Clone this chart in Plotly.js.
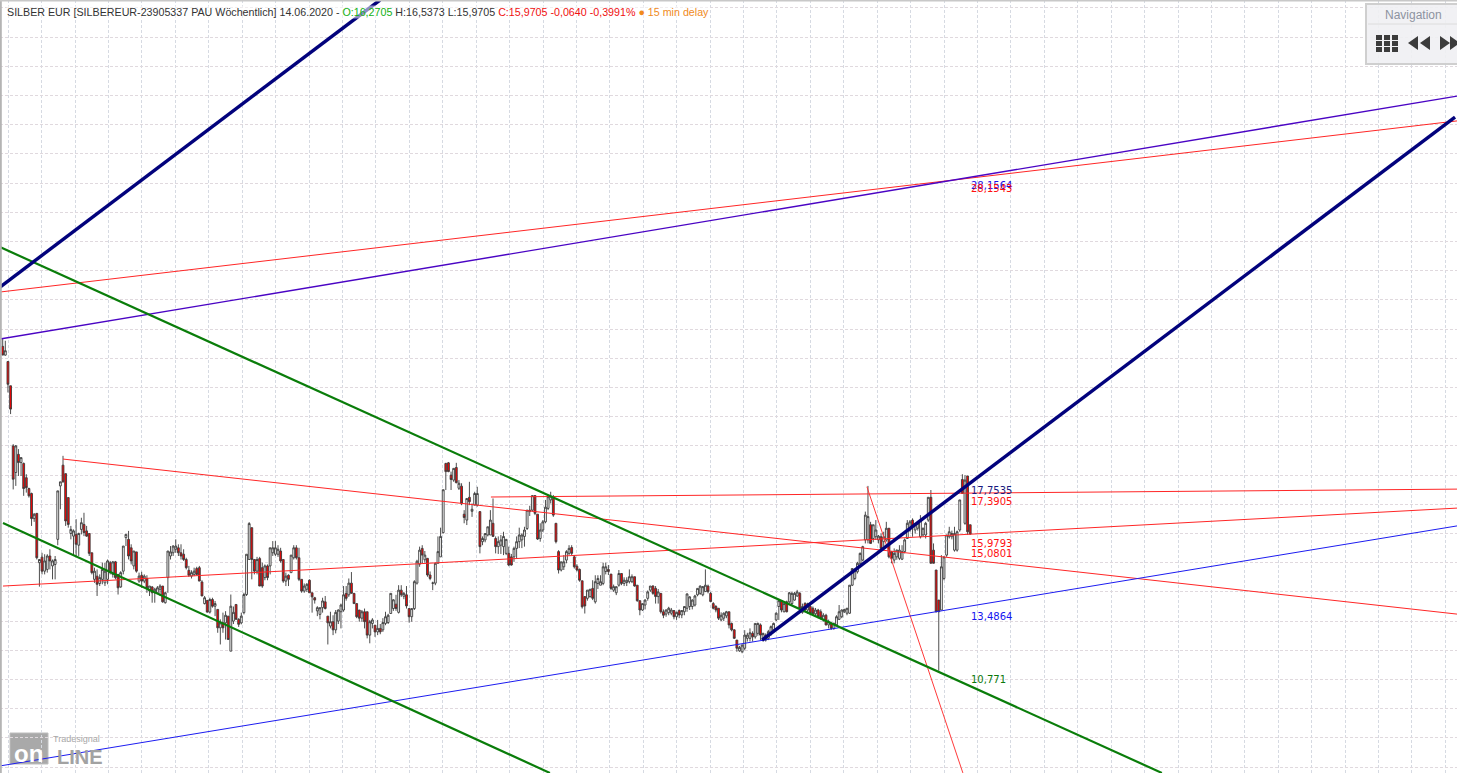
<!DOCTYPE html>
<html>
<head>
<meta charset="utf-8">
<script src="https://cdn.plot.ly/plotly-3.0.1.min.js"></script>
<style>html,body{margin:0;padding:0;background:#fff;overflow:hidden}#chart{width:1457px;height:773px}</style>
</head>
<body>
<div id="chart"></div>
<script>
const opens = [
22.41,22.11,21.89,21.06,19.0,18.09,18.71,18.43,18.4,17.91,
17.54,17.37,16.51,16.69,15.0,15.19,14.71,14.77,15.23,14.89,
14.94,15.8,17.63,18.34,18.05,17.23,16.0,15.91,15.97,15.6,
16.14,16.31,16.09,16.0,15.34,14.43,14.54,14.29,14.43,14.31,
14.43,15.0,14.6,15.03,14.6,14.17,14.71,15.86,15.8,15.51,
14.89,15.37,14.37,14.57,14.37,14.46,14.03,14.17,13.97,13.97,
14.09,14.2,13.63,14.49,15.23,15.34,15.46,15.51,15.34,15.29,
15.11,14.74,14.54,14.6,14.8,14.83,14.34,13.6,13.71,13.31,
13.74,13.51,13.4,12.77,12.94,12.94,13.17,11.97,13.0,13.57,
13.06,12.94,13.29,13.91,15.11,16.2,15.11,14.71,15.14,14.83,
14.49,14.89,14.89,15.34,15.29,15.29,15.4,15.11,14.37,14.57,
14.66,15.17,15.51,15.17,14.43,14.03,14.09,14.4,13.97,13.8,
13.35,13.23,13.46,13.66,13.17,12.83,12.98,12.7,13.0,13.32,
13.38,13.95,13.9,14.3,13.95,13.6,13.38,13.1,13.32,13.32,
12.52,12.92,12.86,12.63,12.75,12.7,12.92,12.95,13.26,13.43,
13.58,13.3,14.06,13.85,13.9,13.43,13.15,13.43,14.3,14.95,
15.49,15.1,15.15,14.58,14.3,14.3,14.98,15.2,16.03,18.4,
18.42,18.0,17.83,18.26,17.55,17.62,16.66,16.46,17.24,16.76,
16.97,16.97,16.75,15.72,15.78,15.95,15.95,16.35,15.83,15.55,
15.6,15.55,15.32,15.32,15.2,15.2,15.49,15.72,15.78,15.9,
16.17,16.75,16.8,17.3,16.66,15.83,16.12,16.4,16.86,17.15,
17.2,16.35,15.38,14.75,14.86,15.09,15.32,15.52,15.2,14.88,
14.77,14.38,13.84,13.78,13.84,14.12,13.66,14.29,14.23,14.29,
14.7,14.77,14.61,14.06,13.97,14.23,14.63,14.29,14.32,14.35,
14.35,14.52,14.23,13.7,13.38,13.55,13.78,14.06,14.2,14.12,
13.84,13.95,13.32,13.24,13.29,13.27,13.36,13.15,13.36,13.21,
13.32,13.44,13.5,13.5,13.55,13.9,13.95,13.9,14.01,14.2,
13.95,13.6,13.5,13.44,13.04,13.1,13.18,13.32,12.92,12.7,
12.35,11.98,11.95,12.07,12.41,12.41,12.58,12.46,12.58,12.87,
12.41,12.52,12.41,12.58,12.7,13.04,13.5,13.7,13.32,13.66,
13.66,13.6,13.72,13.86,13.95,13.3,13.6,13.38,13.5,13.44,
13.25,13.38,13.32,13.04,13.2,12.87,12.92,12.75,12.87,13.06,
13.15,13.32,13.27,13.27,14.23,14.46,14.69,14.98,15.09,15.78,
15.78,16.3,15.83,15.89,15.78,15.89,15.72,15.78,16.18,15.38,
15.09,15.2,15.15,15.12,15.38,15.83,16.12,16.46,16.12,16.18,
15.89,15.95,15.95,16.46,17.24,15.43,14.75,13.72,13.38,14.46,
15.26,15.89,15.89,15.43,15.43,16.12,17.85,16.35,17.97,16.3
];
const highs = [
22.66,22.6,21.89,21.06,19.06,19.03,18.89,18.6,18.43,18.03,
17.57,17.4,16.7,16.69,15.11,15.34,15.29,15.29,15.46,15.11,
15.23,17.46,17.77,18.66,18.05,17.23,16.26,16.14,16.49,16.03,
16.54,16.71,16.26,16.0,15.34,14.83,14.77,14.6,15.0,15.0,
15.11,15.06,15.06,15.06,14.6,14.71,15.57,15.97,16.09,15.63,
15.4,15.37,14.66,14.69,14.6,14.57,14.2,14.2,14.14,14.2,
14.26,14.2,14.0,15.4,15.57,15.6,15.8,15.63,15.63,15.46,
15.17,14.89,14.74,14.83,14.86,14.89,14.4,13.86,13.71,13.8,
13.8,13.69,13.4,13.06,13.29,13.34,13.17,13.91,13.5,13.57,
13.1,13.29,13.97,15.29,16.39,16.2,15.11,15.2,15.2,15.0,
14.94,14.94,15.51,15.74,15.74,15.6,15.51,15.11,14.66,14.6,
15.26,15.6,15.6,15.51,14.43,14.29,14.3,14.43,13.97,13.83,
13.51,13.46,13.8,13.86,13.17,13.32,13.2,13.38,13.4,13.6,
14.2,14.2,14.46,14.68,13.95,13.6,13.38,13.38,13.43,13.32,
13.04,13.1,12.86,13.04,12.9,13.1,13.32,13.25,13.95,13.75,
13.9,14.23,14.23,14.0,14.2,13.43,13.43,14.4,15.1,15.55,
15.6,15.4,15.15,14.7,14.35,15.0,15.9,16.2,17.5,18.42,
18.45,18.12,18.23,18.42,17.83,17.72,16.8,17.2,17.77,17.03,
17.43,17.6,16.75,15.9,16.0,16.23,16.8,17.2,15.9,15.9,
15.95,16.06,15.8,15.55,15.3,15.55,15.9,16.2,16.0,16.23,
16.8,16.95,17.3,17.3,16.66,16.35,16.46,17.15,17.32,17.43,
17.32,16.35,15.43,15.03,15.26,15.43,15.6,15.6,15.26,14.95,
14.8,14.38,13.84,14.06,14.1,14.4,14.57,14.57,14.57,15.0,
15.0,14.92,14.61,14.25,14.18,14.75,14.63,14.5,14.5,14.77,
14.6,14.52,14.23,13.7,13.6,13.75,14.05,14.2,14.23,14.2,
14.1,13.95,13.4,13.4,13.49,13.45,13.38,13.32,13.4,13.38,
13.5,13.95,13.85,13.75,13.9,14.12,14.22,14.2,14.77,14.25,
14.0,13.65,13.55,13.44,13.3,13.3,13.35,13.32,12.95,12.72,
12.35,12.15,12.2,12.69,12.6,12.75,12.65,12.92,12.95,12.92,
12.6,12.58,12.7,12.85,12.95,13.3,13.72,13.72,13.6,13.7,
14.0,14.0,14.0,14.07,14.0,13.6,13.65,13.63,13.55,13.5,
13.45,13.42,13.4,13.27,13.25,13.05,12.95,12.95,13.2,13.55,
13.4,13.42,13.45,14.23,14.8,14.8,15.03,15.35,15.58,16.75,
17.63,16.4,16.3,16.46,15.95,16.0,16.06,16.4,16.18,15.38,
15.49,15.45,15.6,15.6,15.83,16.46,16.46,16.52,16.35,16.4,
16.63,16.2,16.4,17.24,17.49,15.66,14.75,13.72,15.26,15.2,
15.95,16.23,16.1,16.23,16.1,17.15,18.03,18.0,17.97,16.3
];
const lows = [
22.11,22.09,20.83,20.09,17.51,17.63,17.97,17.97,17.29,17.4,
17.23,16.26,16.4,15.11,14.18,14.6,14.6,14.66,14.77,14.43,
14.43,15.6,16.83,17.74,16.26,16.2,15.8,15.23,15.23,15.23,
15.97,15.91,15.89,15.23,14.6,14.31,13.86,14.2,14.26,14.2,
14.26,14.6,14.49,14.43,13.91,14.14,14.6,15.57,15.11,14.94,
14.77,14.66,14.31,14.14,14.3,13.97,13.86,13.63,13.63,13.97,
13.86,13.63,13.6,13.97,15.11,15.23,15.34,15.23,15.11,15.06,
14.77,14.51,14.46,14.54,14.57,14.37,13.86,13.57,13.29,13.26,
13.46,13.17,12.6,12.2,12.6,12.37,12.37,11.97,12.9,13.06,
12.8,12.89,13.23,13.86,15.11,14.43,14.6,14.6,14.2,14.14,
14.4,14.4,14.6,15.23,15.23,15.2,15.0,14.31,14.2,14.2,
14.66,15.11,15.11,14.37,13.97,13.97,14.0,13.97,13.29,13.6,
13.17,13.06,13.29,13.4,12.2,12.75,12.52,12.58,12.9,12.75,
13.32,13.7,13.83,13.95,13.6,13.1,12.98,12.98,12.75,12.41,
12.24,12.75,12.46,12.52,12.55,12.63,12.86,12.9,13.26,13.35,
13.35,13.26,13.83,13.75,13.43,12.95,12.98,13.38,14.25,14.86,
14.98,15.0,14.52,14.4,14.06,14.23,14.98,15.2,16.0,17.49,
18.1,17.49,17.77,17.72,17.49,16.97,16.35,16.29,16.97,16.57,
16.97,16.92,15.32,15.6,15.7,15.9,15.95,15.9,15.32,15.3,
15.3,15.26,15.26,14.88,14.9,15.03,15.15,15.5,15.5,15.55,
16.12,16.6,16.75,16.63,15.78,15.72,16.05,16.35,16.8,17.03,
16.57,15.66,14.63,14.7,14.75,14.98,15.26,15.26,14.8,14.7,
14.35,13.43,13.26,13.7,13.8,13.72,13.6,14.1,14.23,14.23,
14.6,14.58,14.06,14.0,13.89,14.18,14.23,14.2,14.2,14.29,
14.3,14.18,13.66,13.2,13.35,13.4,13.7,14.0,13.9,13.6,
13.6,13.26,13.1,13.15,13.2,13.2,13.06,13.04,13.1,13.1,
13.2,13.32,13.38,13.4,13.5,13.85,13.9,13.85,14.0,13.95,
13.65,13.4,13.3,13.04,13.0,13.0,13.1,12.75,12.65,12.4,
11.95,11.95,11.9,12.0,12.3,12.3,12.3,12.4,12.5,12.35,
12.3,12.3,12.35,12.5,12.6,13.0,13.04,13.3,13.3,13.3,
13.6,13.55,13.7,13.83,13.38,13.25,13.32,13.25,13.2,13.2,
13.2,13.1,13.05,12.98,12.85,12.75,12.7,12.7,12.83,13.04,
13.1,13.28,13.2,13.25,14.2,14.4,14.63,14.9,15.05,15.66,
15.66,15.66,15.7,15.78,15.66,15.43,15.55,15.72,15.15,14.98,
14.98,15.1,15.09,15.09,15.32,15.83,16.06,15.89,16.0,16.1,
15.83,15.9,15.83,16.4,14.98,14.98,13.3,11.3,13.38,14.4,
15.2,15.83,15.8,15.38,15.38,16.06,17.37,16.3,15.95,15.95
];
const closes = [
22.11,22.26,21.11,20.26,17.86,19.0,18.43,18.6,17.54,17.57,
17.29,16.51,16.66,15.17,15.11,14.71,15.06,15.23,15.06,15.06,
15.11,17.46,17.77,17.77,16.43,16.31,16.14,16.09,15.63,16.0,
16.37,16.03,15.91,15.32,14.66,14.71,14.26,14.49,14.77,14.71,
15.06,14.66,15.03,14.49,14.14,14.66,15.57,15.97,15.23,15.06,
15.4,14.71,14.54,14.37,14.54,14.14,14.2,13.97,14.09,14.14,
14.2,13.66,13.97,15.4,15.37,15.57,15.57,15.34,15.23,15.11,
14.83,14.57,14.66,14.71,14.6,14.37,13.86,13.8,13.31,13.74,
13.51,13.6,12.77,12.94,12.77,13.2,12.37,13.51,13.3,13.06,
12.89,13.17,13.91,15.29,16.34,15.11,14.71,15.11,14.2,14.2,
14.89,14.49,15.51,15.51,15.51,15.46,15.06,14.37,14.54,14.43,
15.26,15.51,15.17,14.43,14.03,14.2,14.26,13.97,13.83,13.72,
13.46,13.46,13.69,13.43,12.94,12.98,12.7,13.3,13.38,13.55,
13.9,13.78,14.3,13.95,13.6,13.15,13.1,13.32,12.98,12.52,
12.98,13.04,12.63,12.75,12.63,12.95,13.15,13.2,13.95,13.73,
13.43,14.06,13.9,13.95,13.52,13.15,13.43,14.35,15.05,15.43,
15.26,15.26,14.58,14.46,14.3,14.98,15.38,15.9,17.5,18.12,
18.12,17.85,18.23,17.74,17.72,17.03,16.55,17.2,17.09,16.83,
17.37,17.37,15.55,15.83,16.0,16.23,16.46,15.9,15.55,15.72,
15.78,15.9,15.8,14.92,14.92,15.49,15.72,15.95,15.95,16.12,
16.8,16.8,17.3,16.69,15.81,16.12,16.4,16.9,17.26,17.28,
16.63,15.72,14.75,15.03,15.03,15.38,15.49,15.32,14.86,14.75,
14.4,13.49,13.52,14.06,14.09,13.78,14.35,14.46,14.35,14.86,
14.86,14.7,14.12,14.18,14.18,14.63,14.29,14.4,14.4,14.52,
14.52,14.2,13.7,13.38,13.6,13.72,14.0,14.2,13.95,13.84,
14.0,13.32,13.2,13.38,13.44,13.38,13.15,13.3,13.21,13.36,
13.5,13.93,13.83,13.72,13.86,14.12,14.2,14.18,14.23,14.01,
13.67,13.44,13.38,13.1,13.2,13.27,13.32,12.87,12.7,12.41,
12.07,12.1,12.18,12.52,12.52,12.6,12.46,12.92,12.92,12.52,
12.58,12.35,12.64,12.81,12.92,13.27,13.7,13.38,13.6,13.32,
13.97,13.95,13.95,14.0,13.44,13.5,13.38,13.6,13.27,13.25,
13.38,13.15,13.1,13.2,12.87,12.98,12.75,12.92,13.15,13.32,
13.38,13.4,13.44,14.23,14.8,14.75,14.98,15.32,15.55,16.63,
16.58,15.66,16.3,16.12,15.91,15.49,15.89,16.18,15.2,15.15,
15.32,15.43,15.43,15.38,15.78,16.35,16.4,16.23,16.3,16.35,
16.46,16.18,16.35,17.24,14.98,14.98,13.32,13.32,14.86,15.2,
15.95,16.06,16.0,16.0,16.06,17.15,17.37,17.83,16.06,15.98
];
const barNumbers = opens.map((_, k) => k);

// trend lines: bar positions and price levels at both ends
const lineNavyUpperX = [-1.03, 143.9];
const lineNavyUpperY = [24.44, 34.27];
const lineNavyLowerX = [289.6, 553.9];
const lineNavyLowerY = [12.35, 30.26];
const lineRedTopX = [-1.03, 554.65];
const lineRedTopY = [24.27, 30.13];
const linePurpleX = [-1.03, 554.65];
const linePurpleY = [22.66, 30.98];
const lineGreenUpperX = [-1.03, 442.1];
const lineGreenUpperY = [25.81, 7.80];
const lineGreenLowerX = [0.11, 208.7];
const lineGreenLowerY = [16.36, 7.80];
const lineRedFallX = [23.0, 554.65];
const lineRedFallY = [18.55, 13.24];
const lineRedFlatX = [186.2, 554.65];
const lineRedFlatY = [17.25, 17.52];
const lineRedRiseX = [0.11, 554.65];
const lineRedRiseY = [14.2, 16.87];
const lineBlueX = [-1.03, 554.65];
const lineBlueY = [8.04, 16.26];
const lineRedSteepX = [329.6, 366.2];
const lineRedSteepY = [17.6, 7.80];

// price labels next to the last bar
const labelTexts = ['28,1564','28,1543','17,7535','17,3905','15,9793','15,0801','13,4864','10,771'];
const labelPrices = [27.93,27.83,17.46,17.08,15.67,15.33,13.16,11.0];
const labelColors = ['#1c10e8','#ff1010','#1a1a80','#ff1010','#ff1010','#ff1010','#1414f0','#0a780a'];

const px = v => v / 1457;
const py = v => 1 - v / 773;

const traces = [{
  type: 'candlestick', x: barNumbers, open: opens, high: highs, low: lows, close: closes,
  increasing: {line: {color: '#3a3a3a', width: 0.9}, fillcolor: '#ffffff'},
  decreasing: {line: {color: '#3a3a3a', width: 0.9}, fillcolor: '#ff0000'},
  whiskerwidth: 0, hoverinfo: 'skip', showlegend: false
}];
function addLine(x, y, color, width) {
  traces.push({type: 'scatter', mode: 'lines', x: x, y: y, line: {color: color, width: width}, hoverinfo: 'skip', showlegend: false});
}
addLine(lineRedTopX, lineRedTopY, '#ff2626', 1);
addLine(linePurpleX, linePurpleY, '#4a04c4', 1.4);
addLine(lineRedFallX, lineRedFallY, '#ff2626', 1);
addLine(lineRedFlatX, lineRedFlatY, '#ff2626', 1);
addLine(lineRedRiseX, lineRedRiseY, '#ff2626', 1);
addLine(lineRedSteepX, lineRedSteepY, '#ff3a3a', 1);
addLine(lineBlueX, lineBlueY, '#1c1cf0', 1);
addLine(lineGreenUpperX, lineGreenUpperY, '#0a7d0a', 2.2);
addLine(lineGreenLowerX, lineGreenLowerY, '#0a7d0a', 2.2);
addLine(lineNavyUpperX, lineNavyUpperY, '#02027c', 3.4);
addLine(lineNavyLowerX, lineNavyLowerY, '#02027c', 3.4);

const annotations = labelTexts.map((t, k) => ({
  x: 369.1, y: labelPrices[k], xref: 'x', yref: 'y', text: t, showarrow: false, xanchor: 'left', yanchor: 'middle',
  font: {family: 'DejaVu Sans', size: 10, color: labelColors[k]}, borderpad: 0
}));
function note(x, y, text, size, color, extra) {
  annotations.push(Object.assign({
    x: px(x), y: py(y), xref: 'paper', yref: 'paper', text: text, showarrow: false, xanchor: 'left', yanchor: 'middle', borderpad: 0,
    font: {family: 'Liberation Sans', size: size, color: color}
  }, extra || {}));
}
note(6, 12,
  'SILBER EUR [SILBEREUR-23905337 PAU Wöchentlich] 14.06.2020 - ' +
  '<span style="color:#12b012">O:16,2705</span> H:16,5373 L:15,9705 ' +
  '<span style="color:#f01010">C:15,9705 -0,0640 -0,3991%</span> ' +
  '<span style="color:#f08a1c">● 15 min delay</span>', 10.7, '#333333', {bgcolor: 'rgba(255,255,255,0.55)'});
note(1384, 15, 'Navigation', 12, '#8d93a0');
note(52, 739, 'Tradesignal', 9, '#a8a8a8');
note(13, 753, '<b>on</b>', 24, '#ffffff');
note(56, 757, '<b>LINE</b>', 20, '#a2a2a2');

const shapes = [
  {type: 'rect', xref: 'paper', yref: 'paper', x0: px(0), x1: px(1.8), y0: py(773), y1: py(0), line: {width: 0}, fillcolor: '#b4b4b4'},
  {type: 'rect', xref: 'paper', yref: 'paper', x0: px(0), x1: px(1457), y0: py(1.6), y1: py(0), line: {width: 0}, fillcolor: '#c8c8c8'},
  {type: 'rect', xref: 'paper', yref: 'paper', x0: px(1366), x1: px(1462), y0: py(64), y1: py(4), line: {color: '#cfcfcf', width: 2}, fillcolor: 'rgba(240,240,243,0.9)'},
  {type: 'line', xref: 'paper', yref: 'paper', x0: px(1368), x1: px(1457), y0: py(24), y1: py(24), line: {color: '#dcdcdc', width: 1}},
  {type: 'rect', xref: 'paper', yref: 'paper', x0: px(10), x1: px(48), y0: py(764), y1: py(733), line: {color: '#bdbdbd', width: 1}, fillcolor: '#a9a9a9', layer: 'below'}
];
[0, 1, 2].forEach(r => [0, 1, 2].forEach(c => shapes.push({
  type: 'rect', xref: 'paper', yref: 'paper',
  x0: px(1376 + c * 8), x1: px(1382 + c * 8), y0: py(40 + r * 6), y1: py(35 + r * 6),
  line: {width: 0}, fillcolor: '#3c3c3c'
})));
[[1418, 1408], [1430, 1420]].forEach(a => shapes.push({
  type: 'path', xref: 'paper', yref: 'paper',
  path: `M ${px(a[0])} ${py(36)} L ${px(a[1])} ${py(43)} L ${px(a[0])} ${py(50)} Z`, line: {width: 0}, fillcolor: '#3c3c3c'
}));
[[1440, 1450], [1450, 1460]].forEach(a => shapes.push({
  type: 'path', xref: 'paper', yref: 'paper',
  path: `M ${px(a[0])} ${py(36)} L ${px(a[1])} ${py(43)} L ${px(a[0])} ${py(50)} Z`, line: {width: 0}, fillcolor: '#3c3c3c'
}));

const layout = {
  width: 1457, height: 773, margin: {l: 0, r: 0, t: 0, b: 0, pad: 0},
  paper_bgcolor: '#ffffff', plot_bgcolor: '#ffffff', showlegend: false, boxgap: 0,
  xaxis: {type: 'linear', range: [-1.03, 554.65], tick0: 2.136, dtick: 12.746, showgrid: true, gridcolor: '#d6dae2', griddash: '3px,2px', gridwidth: 1,
    zeroline: false, showticklabels: false, ticks: '', showline: false, rangeslider: {visible: false}, fixedrange: true},
  yaxis: {type: 'linear', range: [7.798, 34.271], tick0: 0, dtick: 1, showgrid: true, gridcolor: '#e0d9de', griddash: '3px,2px', gridwidth: 1,
    zeroline: false, showticklabels: false, ticks: '', showline: false, fixedrange: true},
  shapes: shapes, annotations: annotations
};
Plotly.newPlot('chart', traces, layout, {displayModeBar: false, staticPlot: true});
</script>
</body>
</html>
